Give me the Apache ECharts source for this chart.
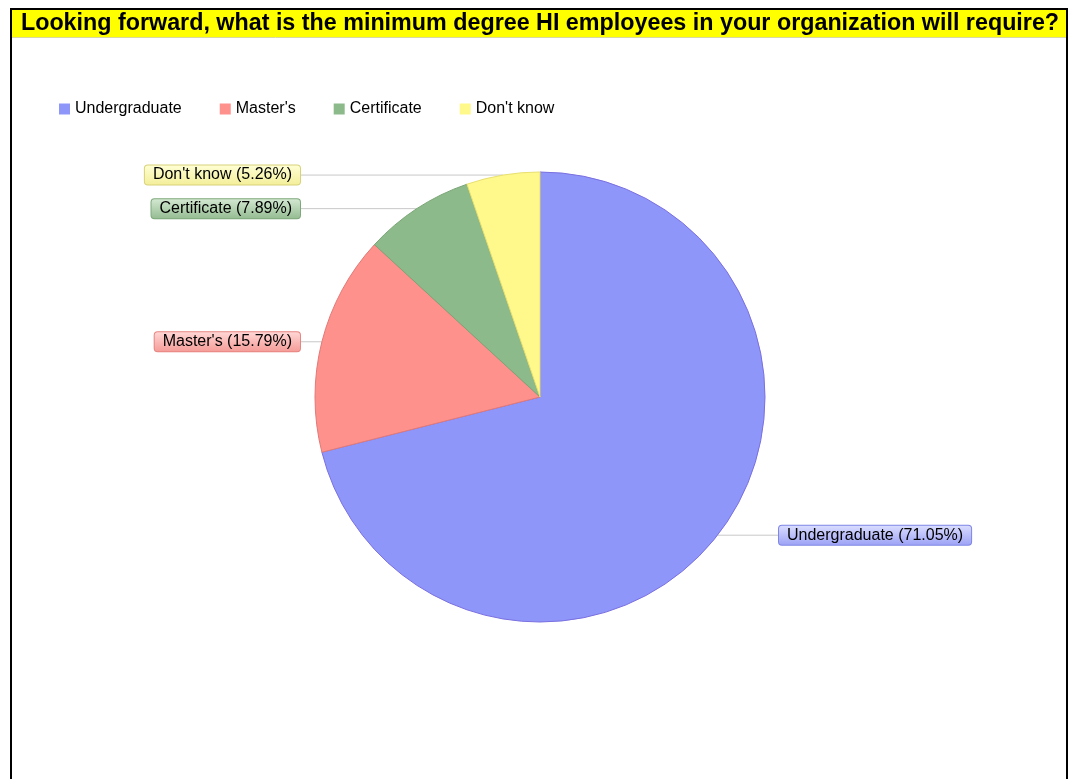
<!DOCTYPE html>
<html>
<head>
<meta charset="utf-8">
<script src="https://cdn.jsdelivr.net/npm/echarts@6/dist/echarts.min.js"></script>
<style>
  html, body { margin: 0; padding: 0; background: #ffffff; }
  #chart { width: 1071px; height: 779px; }
</style>
</head>
<body>
<div id="chart"></div>
<script>
// Survey question and answers
const titleText = 'Looking forward, what is the minimum degree HI employees in your organization will require?';
const categories = ['Undergraduate', "Master's", 'Certificate', "Don't know"];
const counts = [27, 6, 3, 2];

// Slice fill, slice edge, label box light / dark tones
const fillColors = ['#8f96fa', '#ff918c', '#8dba8a', '#fff88a'];
const edgeColors = ['#7a70e0', '#e07a78', '#7aa676', '#e8e070'];
const boxLight = ['#dcdfff', '#ffd9d7', '#d6ead4', '#ffffd6'];
const boxDark = ['#9ba1f5', '#f59a96', '#93bb90', '#f3ee98'];
const boxBorder = ['#7f86e6', '#e68581', '#7ea87b', '#d8d27a'];

const total = counts.reduce((a, b) => a + b, 0);
const FONT = '"Liberation Sans", Arial, sans-serif';

const seriesData = categories.map((name, i) => ({
  name: name,
  value: counts[i],
  itemStyle: { color: fillColors[i], borderColor: edgeColors[i], borderWidth: 1 },
  label: {
    backgroundColor: {
      type: 'linear', x: 0, y: 0, x2: 0, y2: 1,
      colorStops: [{ offset: 0, color: boxLight[i] }, { offset: 1, color: boxDark[i] }]
    },
    borderColor: boxBorder[i]
  }
}));

const chart = echarts.init(document.getElementById('chart'), null, { renderer: 'canvas' });

const cx = 540, cy = 397, radius = 225;
const leftLabelX = 300, rightLabelX = 779;

chart.setOption({
  backgroundColor: '#ffffff',
  animation: false,
  graphic: [
    // outer frame
    { type: 'rect', shape: { x: 11, y: 9, width: 1056, height: 800 },
      style: { fill: '#ffffff', stroke: '#000000', lineWidth: 2 }, z: 0 },
    // yellow heading band
    { type: 'rect', shape: { x: 12, y: 10, width: 1054, height: 27 },
      style: { fill: '#ffff00' }, z: 1 },
    { type: 'line', shape: { x1: 12, y1: 37.5, x2: 1066, y2: 37.5 },
      style: { stroke: '#d8d8a0', lineWidth: 1 }, z: 1 },
    { type: 'text', x: 540, y: 24, z: 2,
      style: { text: titleText, fill: '#000000', font: 'bold 23.3px ' + FONT,
               align: 'center', verticalAlign: 'middle' } }
  ],
  legend: {
    left: 54, top: 96,
    itemWidth: 11, itemHeight: 11, itemGap: 38,
    icon: 'rect',
    itemStyle: { borderWidth: 0 },
    textStyle: { fontFamily: FONT, fontSize: 16, color: '#000000', padding: [0, 0, 0, 0] },
    data: categories
  },
  series: [{
    type: 'pie',
    center: [cx, cy],
    radius: [0, radius],
    startAngle: 90,
    clockwise: true,
    data: seriesData,
    label: {
      show: true,
      formatter: p => p.name + ' (' + (p.value / total * 100).toFixed(2) + '%)',
      fontFamily: FONT,
      fontSize: 16,
      color: '#000000',
      padding: [2, 8, 1, 8],
      borderWidth: 1,
      borderRadius: 3
    },
    labelLine: {
      show: true, length: 0, length2: 20,
      lineStyle: { color: '#c8c8c8', width: 1 }
    },
    labelLayout: function (params) {
      const anchor = params.labelLinePoints ? params.labelLinePoints[0] : null;
      if (!anchor) return {};
      const onLeft = anchor[0] < cx;
      const lx = onLeft ? leftLabelX : rightLabelX;
      return {
        x: lx,
        y: anchor[1],
        align: onLeft ? 'right' : 'left',
        verticalAlign: 'middle',
        labelLinePoints: [[anchor[0], anchor[1]], [anchor[0], anchor[1]], [lx, anchor[1]]]
      };
    },
    emphasis: { disabled: true }
  }]
});
</script>
</body>
</html>
